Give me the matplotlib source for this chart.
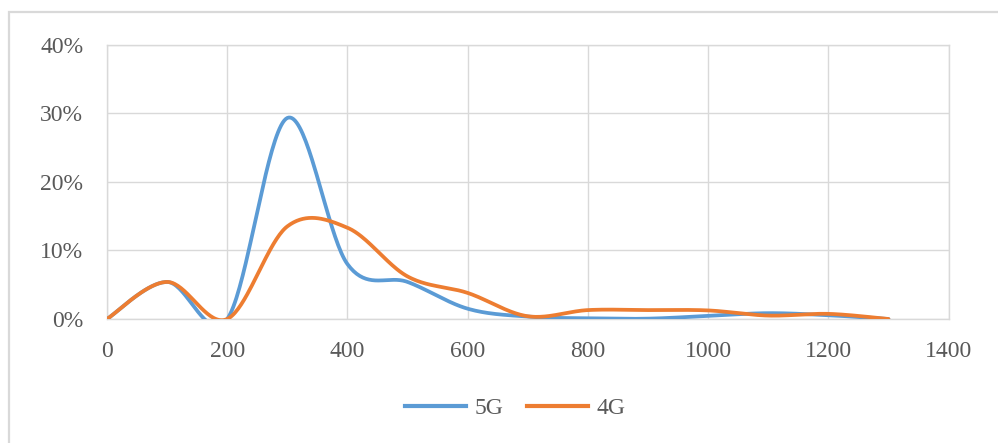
import numpy as np
import matplotlib.pyplot as plt
from matplotlib.lines import Line2D
from matplotlib.patches import Rectangle

# distance buckets and share of samples per bucket
distance = [0, 100, 200, 300, 400, 500, 600, 700, 800, 900, 1000, 1100, 1200, 1300]
share_5g = [0.0, 5.4, 0.0, 29.3, 8.0, 5.4, 1.5, 0.35, 0.1, 0.05, 0.45, 0.85, 0.55, 0.0]
share_4g = [0.0, 5.4, 0.0, 13.5, 13.3, 6.2, 3.8, 0.4, 1.3, 1.3, 1.25, 0.5, 0.75, 0.0]

x_ticks = [0, 200, 400, 600, 800, 1000, 1200, 1400]
y_ticks = [0, 10, 20, 30, 40]
y_labels = ['0%', '10%', '20%', '30%', '40%']

BLUE = '#5B9BD5'
ORANGE = '#ED7D31'
GRID = '#D9D9D9'
TEXT = '#595959'

plt.rcParams['font.family'] = ['Liberation Serif', 'DejaVu Serif']


def smooth(x, y, n=40):
    """Catmull-Rom style cubic Bezier through the points (like Excel's smoothed line)."""
    x = np.asarray(x, float)
    y = np.asarray(y, float)
    pts = np.column_stack([x, y])
    out = []
    t = np.linspace(0, 1, n)[:, None]
    for i in range(len(pts) - 1):
        p0 = pts[i]
        p3 = pts[i + 1]
        prev = pts[i - 1] if i > 0 else p0
        nxt = pts[i + 2] if i + 2 < len(pts) else p3
        p1 = p0 + (p3 - prev) / 6
        p2 = p3 - (nxt - p0) / 6
        seg = ((1 - t) ** 3) * p0 + 3 * ((1 - t) ** 2) * t * p1 \
            + 3 * (1 - t) * t ** 2 * p2 + t ** 3 * p3
        out.append(seg if i == 0 else seg[1:])
    out = np.vstack(out)
    return out[:, 0], out[:, 1]


fig = plt.figure(figsize=(9.98, 4.43), dpi=100)
ax = fig.add_axes([0.1072, 0.2799, 0.8433, 0.6196])

# chart frame
fig.patches.append(Rectangle((9 / 998, -0.1), 1.2, 1 - 12 / 443 + 0.1,
                             transform=fig.transFigure, fill=False,
                             edgecolor=GRID, linewidth=1.6))

for values, color, name in [(share_5g, BLUE, '5G'), (share_4g, ORANGE, '4G')]:
    sx, sy = smooth(distance, values)
    ax.plot(sx, sy, color=color, linewidth=2.7, label=name,
            solid_capstyle='round', zorder=3)

ax.set_xlim(0, 1400)
ax.set_ylim(0, 40)
ax.set_xticks(x_ticks)
ax.set_yticks(y_ticks)
ax.set_yticklabels(y_labels)
ax.grid(True, color=GRID, linewidth=1.0)
ax.set_axisbelow(True)
for side in ax.spines.values():
    side.set_color(GRID)
    side.set_linewidth(1.0)

ax.tick_params(axis='both', length=0, labelsize=17, colors=TEXT)
ax.tick_params(axis='y', pad=17)
ax.tick_params(axis='x', pad=16)

handles = [Line2D([], [], color=BLUE, linewidth=3),
           Line2D([], [], color=ORANGE, linewidth=3)]
fig.legend(handles, ['5G', '4G'], loc='center', bbox_to_anchor=(0.516, 0.079),
           ncol=2, frameon=False, fontsize=17, handlelength=2.6,
           handletextpad=0.35, columnspacing=1.0, labelcolor=TEXT)

fig.savefig('out.png', dpi=100, facecolor='white')
